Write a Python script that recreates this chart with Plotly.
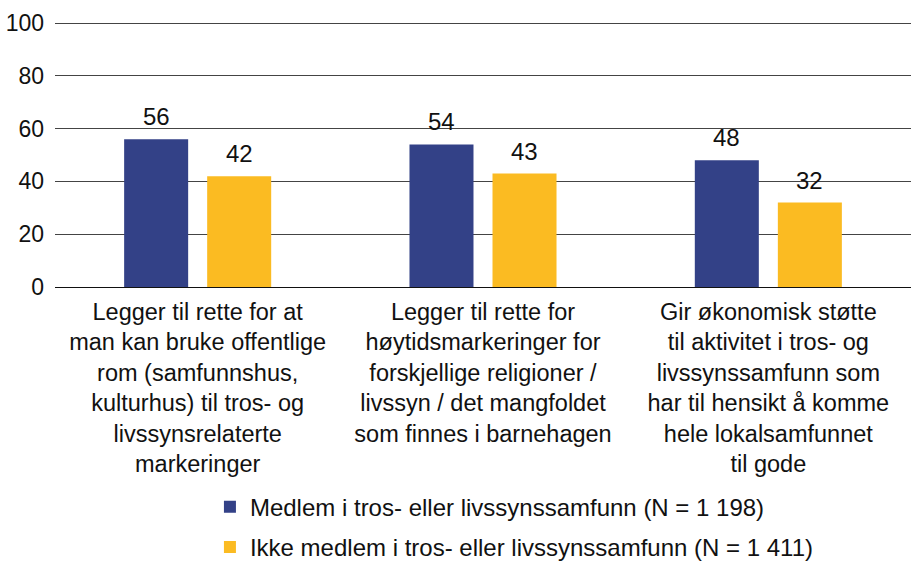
import plotly.graph_objects as go

categories = [
    "Legger til rette for at<br>man kan bruke offentlige<br>rom (samfunnshus,<br>kulturhus) til tros- og<br>livssynsrelaterte<br>markeringer",
    "Legger til rette for<br>høytidsmarkeringer for<br>forskjellige religioner /<br>livssyn / det mangfoldet<br>som finnes i barnehagen",
    "Gir økonomisk støtte<br>til aktivitet i tros- og<br>livssynssamfunn som<br>har til hensikt å komme<br>hele lokalsamfunnet<br>til gode",
]
series_names = [
    "Medlem i tros- eller livssynssamfunn (N = 1 198)",
    "Ikke medlem i tros- eller livssynssamfunn (N = 1 411)",
]
member = [56, 54, 48]
non_member = [42, 43, 32]
y_ticks = [0, 20, 40, 60, 80, 100]

colors = ["#334187", "#fbbb22"]
font = "Liberation Sans, Arial, sans-serif"
fs = 23

fig = go.Figure()
for i, (name, vals) in enumerate(zip(series_names, [member, non_member])):
    fig.add_trace(go.Bar(
        x=categories, y=vals, name=name, marker_color=colors[i],
        marker_line_width=0, legendgroup=f"g{i}",
    ))
    shift = -41.5 if i == 0 else 41.5
    for c, v in zip(categories, vals):
        fig.add_annotation(x=c, y=v, text=str(v), showarrow=False,
                           xshift=shift, yshift=7, yanchor="bottom",
                           font=dict(size=24, color="#111111", family=font))

fig.update_layout(
    width=911, height=563,
    margin=dict(l=55, r=0, t=22, b=276),
    plot_bgcolor="white", paper_bgcolor="white",
    barmode="group", bargap=0.418, bargroupgap=0.229,
    font=dict(family=font, size=fs, color="#111111"),
    xaxis=dict(showgrid=False, showline=False, ticks="", tickfont=dict(size=23.5),
               ticklabelstandoff=8, automargin=False),
    yaxis=dict(range=[0, 100.4], tickvals=y_ticks, showgrid=True, gridcolor="#444444",
               gridwidth=1, zeroline=True, zerolinecolor="#111111", zerolinewidth=1,
               tickfont=dict(size=fs), ticklabelstandoff=10, showline=False,
               automargin=False),
    legend=dict(x=0.181, y=0.139, xanchor="left", yanchor="top", yref="container",
                orientation="v", font=dict(size=24), tracegroupgap=6,
                bgcolor="rgba(0,0,0,0)"),
    showlegend=True,
)

fig.write_html("out.html", config={"displayModeBar": False},
               post_script="document.body.style.margin='0';document.body.style.overflow='hidden';")
